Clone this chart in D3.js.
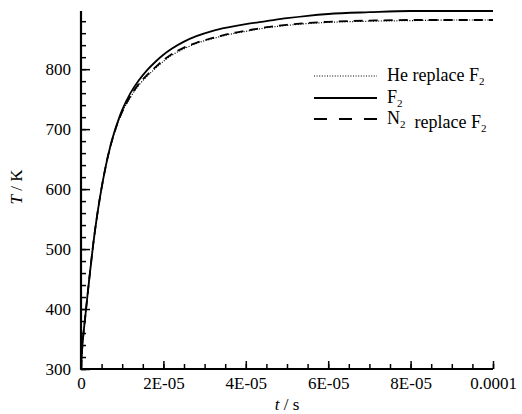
<!DOCTYPE html>
<html>
<head>
<meta charset="utf-8">
<script src="https://cdn.jsdelivr.net/npm/d3@7"></script>
<style>
  html, body { margin: 0; padding: 0; background: #fff; }
  svg text { fill: #000; }
</style>
</head>
<body>
<svg id="chart" width="522" height="414"></svg>
<script>
// Time samples (s) and temperatures (K) for each diluent case
const timeS = [0, 0.25e-6, 0.5e-6, 1e-6, 1.5e-6, 2e-6, 3e-6, 4e-6, 5e-6, 6e-6, 7e-6, 8e-6, 9e-6,
  10e-6, 12e-6, 14e-6, 16e-6, 18e-6, 20e-6, 22e-6, 25e-6, 28e-6, 32e-6, 36e-6, 40e-6, 45e-6,
  50e-6, 55e-6, 60e-6, 70e-6, 80e-6, 90e-6, 100e-6];
const tempF2 = [300, 330, 352, 385, 418, 450, 510, 560, 602, 638, 668, 693, 714,
  732, 760, 781, 798, 812, 824, 834, 846, 855, 864, 870, 875, 880,
  885, 889, 892, 895, 897, 897, 897];
const tempN2 = [300, 330, 352, 385, 418, 450, 510, 560, 602, 638, 668, 692, 712,
  729, 755, 775, 790, 803, 815, 825, 836, 844, 852, 859, 864, 870,
  874, 877, 879, 881, 882, 882, 882];
const tempHe = [300, 330, 352, 385, 418, 450, 510, 560, 602, 638, 667, 691, 711,
  728, 753, 773, 788, 801, 813, 823, 834, 843, 851, 858, 863, 869,
  873, 876, 878, 880, 881, 882, 882];

const xMajorTicks = [0, 2e-5, 4e-5, 6e-5, 8e-5, 1e-4];
const xTickLabels = ["0", "2E-05", "4E-05", "6E-05", "8E-05", "0.0001"];
const yMajorTicks = [300, 400, 500, 600, 700, 800];

const serif = "'Liberation Serif', Tinos, 'Times New Roman', serif";
const svg = d3.select("#chart");
const plotLeft = 81, plotRight = 493, plotTop = 11, plotBottom = 369;

const x = d3.scaleLinear().domain([0, 1e-4]).range([plotLeft, plotRight]);
const y = d3.scaleLinear().domain([300, 897]).range([plotBottom, plotTop]);

const line = d3.line().x((d, i) => x(timeS[i])).y(d => y(d)).curve(d3.curveMonotoneX);

// Curves
const g = svg.append("g");
g.append("path").datum(tempHe).attr("d", line)
  .attr("fill", "none").attr("stroke", "#000").attr("stroke-width", 1.2)
  .attr("stroke-dasharray", "1,1.6");
g.append("path").datum(tempN2).attr("d", line)
  .attr("fill", "none").attr("stroke", "#000").attr("stroke-width", 1.8)
  .attr("stroke-dasharray", "9,6");
g.append("path").datum(tempF2).attr("d", line)
  .attr("fill", "none").attr("stroke", "#000").attr("stroke-width", 1.8);

// Axes: ticks point inward, minor ticks between labelled ones
const xMinor = d3.range(0, 1e-4 + 1e-9, 5e-6);
const yMinor = d3.range(300, 881, 20);

const xAxis = d3.axisBottom(x).tickValues(xMajorTicks)
  .tickFormat((d, i) => xTickLabels[i]).tickSizeInner(-8).tickSizeOuter(0).tickPadding(8);
const xAxisMinor = d3.axisBottom(x).tickValues(xMinor).tickFormat("").tickSizeInner(-5).tickSizeOuter(0);
const yAxis = d3.axisLeft(y).tickValues(yMajorTicks).tickFormat(d3.format("d"))
  .tickSizeInner(-9).tickSizeOuter(0).tickPadding(10);
const yAxisMinor = d3.axisLeft(y).tickValues(yMinor).tickFormat("").tickSizeInner(-5).tickSizeOuter(0);

function styleAxis(sel) {
  sel.attr("font-family", serif).attr("font-size", 17);
  sel.select(".domain").remove();
  sel.selectAll(".tick line").attr("stroke", "#000").attr("stroke-width", 1.5);
}

svg.append("g").attr("transform", `translate(0,${plotBottom})`).call(xAxisMinor).call(styleAxis);
svg.append("g").attr("transform", `translate(0,${plotBottom})`).call(xAxis).call(styleAxis);
svg.append("g").attr("transform", `translate(${plotLeft},0)`).call(yAxisMinor).call(styleAxis);
svg.append("g").attr("transform", `translate(${plotLeft},0)`).call(yAxis).call(styleAxis);

// Axis lines (left and bottom only)
svg.append("line").attr("x1", x(0)).attr("x2", x(1e-4)).attr("y1", plotBottom).attr("y2", plotBottom)
  .attr("stroke", "#000").attr("stroke-width", 2.2);
svg.append("line").attr("x1", plotLeft).attr("x2", plotLeft).attr("y1", y(897)).attr("y2", plotBottom + 1)
  .attr("stroke", "#000").attr("stroke-width", 2.2);

// Axis titles
const xt = svg.append("text").attr("x", (plotLeft + plotRight) / 2).attr("y", 410)
  .attr("text-anchor", "middle").attr("font-size", 17).style("font-family", serif);
xt.append("tspan").attr("font-style", "italic").text("t");
xt.append("tspan").text(" / s");

const yt = svg.append("text")
  .attr("transform", "translate(22,187) rotate(-90)")
  .attr("text-anchor", "middle").attr("font-size", 17).style("font-family", serif);
yt.append("tspan").attr("font-style", "italic").text("T");
yt.append("tspan").text(" / K");

// Legend
const legend = svg.append("g").style("font-family", serif);
const legendRows = [
  { y: 76, dash: "1,1.6", w: 1.2, parts: [["He replace F", ""], ["2", "sub"]] },
  { y: 98, dash: null, w: 1.8, parts: [["F", ""], ["2", "sub"]] },
  { y: 119, dash: "13,12", w: 1.8, parts: [["N", ""], ["2", "sub"], ["  replace F", ""], ["2", "sub"]] }
];
legendRows.forEach(r => {
  legend.append("line").attr("x1", 314).attr("x2", 377).attr("y1", r.y).attr("y2", r.y)
    .attr("stroke", "#000").attr("stroke-width", r.w)
    .attr("stroke-dasharray", r.dash);
  const t = legend.append("text").attr("x", 387).attr("y", r.y + 5).attr("font-size", 18)
    .style("white-space", "pre");
  r.parts.forEach(([s, kind]) => {
    if (kind === "sub") {
      t.append("tspan").attr("font-size", 11).attr("dy", 4).text(s);
      t.append("tspan").attr("dy", -4).text("");
    } else {
      t.append("tspan").text(s);
    }
  });
});
</script>
</body>
</html>
